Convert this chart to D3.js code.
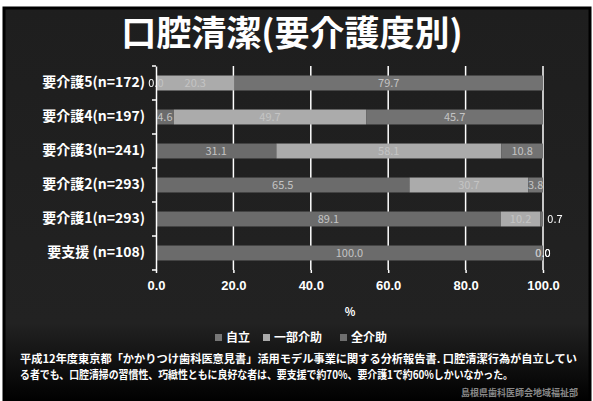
<!DOCTYPE html>
<html>
<head>
<meta charset="utf-8">
<script src="https://cdn.jsdelivr.net/npm/d3@7"></script>
<style>
  body { margin: 0; background: #fff; }
  svg { display: block; }
  text { font-family: "Noto Sans CJK JP", "Noto Sans", sans-serif; }
</style>
</head>
<body>
<div class="display"></div>
<script>
var categories = ["要介護5(n=172)", "要介護4(n=197)", "要介護3(n=241)", "要介護2(n=293)", "要介護1(n=293)", "要支援 (n=108)"];
var seriesNames = ["自立", "一部介助", "全介助"];
var jiritsu = [0.0, 4.6, 31.1, 65.5, 89.1, 100.0];
var ichibu = [20.3, 49.7, 58.1, 30.7, 10.2, 0.0];
var zenkaijo = [79.7, 45.7, 10.8, 3.8, 0.7, 0.0];
var xTicks = [0, 20, 40, 60, 80, 100];
var colors = ["#6b6b6b", "#ababab", "#727272"];

var width = 593, height = 401;

var rows = categories.map(function(c, i) {
  return { cat: c, "自立": jiritsu[i], "一部介助": ichibu[i], "全介助": zenkaijo[i] };
});
var stacked = d3.stack().keys(seriesNames)(rows);

var svg = d3.select(".display").append("svg")
  .attr("width", width).attr("height", height);

var defs = svg.append("defs");
var grad = defs.append("linearGradient").attr("id", "bg")
  .attr("x1", 0).attr("y1", 0).attr("x2", 0).attr("y2", 1);
grad.append("stop").attr("offset", 0).attr("stop-color", "#1e1e1e");
grad.append("stop").attr("offset", 0.8).attr("stop-color", "#222");
grad.append("stop").attr("offset", 1).attr("stop-color", "#000");

svg.append("rect")
  .attr("x", 4).attr("y", 8).attr("width", 586).attr("height", 394)
  .attr("fill", "url(#bg)")
  .attr("stroke", "#000").attr("stroke-width", 3);

// title
svg.append("text")
  .attr("x", 292).attr("y", 46)
  .attr("text-anchor", "middle")
  .attr("fill", "#fff").attr("font-size", 35).attr("font-weight", "bold")
  .text("口腔清潔(要介護度別)");

var x = d3.scaleLinear().domain([0, 100]).range([156, 543]);
var y = d3.scaleBand().domain(categories).range([66, 270])
  .paddingInner(0.56).paddingOuter(0.28);

// gridlines
svg.append("g").selectAll("line")
  .data(xTicks.slice(1))
  .enter().append("line")
  .attr("x1", function(d) { return x(d) }).attr("x2", function(d) { return x(d) })
  .attr("y1", 66).attr("y2", 270)
  .attr("stroke", "#fff").attr("stroke-width", 1.5);

// bars
var bars = svg.append("g");
stacked.forEach(function(s, si) {
  bars.selectAll(".s" + si)
    .data(s)
    .enter().append("rect")
    .attr("x", function(d) { return x(d[0]) })
    .attr("y", function(d) { return y(d.data.cat) })
    .attr("width", function(d) { return x(d[1]) - x(d[0]) })
    .attr("height", y.bandwidth())
    .attr("fill", colors[si]);
});

// masks for label colours (white outside bars, grey inside)
var clip = defs.append("clipPath").attr("id", "inbar");
var mask = defs.append("mask").attr("id", "outbar");
mask.append("rect").attr("width", width).attr("height", height).attr("fill", "#fff");
stacked.forEach(function(s) {
  s.forEach(function(d) {
    var w = x(d[1]) - x(d[0]);
    clip.append("rect").attr("x", x(d[0])).attr("y", y(d.data.cat)).attr("width", w).attr("height", y.bandwidth());
    mask.append("rect").attr("x", x(d[0])).attr("y", y(d.data.cat)).attr("width", w).attr("height", y.bandwidth()).attr("fill", "#000");
  });
});

var labelData = [];
stacked.forEach(function(s, si) {
  s.forEach(function(d) {
    var val = d[1] - d[0];
    var w = x(d[1]) - x(d[0]);
    var cx = (x(d[0]) + x(d[1])) / 2;
    if (si === 2 && val > 0 && w < 6) cx = x(100) + 12;
    labelData.push({ x: cx, y: y(d.data.cat) + y.bandwidth() / 2, t: val.toFixed(1) });
  });
});

function drawLabels(fill, attrName, ref) {
  svg.append("g").attr(attrName, ref)
    .selectAll("text").data(labelData)
    .enter().append("text")
    .attr("x", function(d) { return d.x })
    .attr("y", function(d) { return d.y + 4 })
    .attr("text-anchor", "middle")
    .attr("font-family", "DejaVu Sans, sans-serif")
    .attr("font-size", 11)
    .attr("fill", fill)
    .text(function(d) { return d.t });
}
drawLabels("#fff", "mask", "url(#outbar)");
drawLabels("#c4c4c4", "clip-path", "url(#inbar)");

// y axis
var yAxis = svg.append("g")
  .attr("transform", "translate(156,0)")
  .call(d3.axisLeft(y).tickSize(0).tickPadding(11));
yAxis.select(".domain").attr("stroke", "#fff").attr("stroke-width", 1.5);
yAxis.selectAll("text")
  .attr("fill", "#fff").attr("font-size", 14).attr("font-weight", "bold")
  .style("font-family", "Noto Sans CJK JP");
var yBounds = categories.map(function(c) { return y(c) - y.step() * y.paddingInner() / 2 });
yBounds.push(270);
yBounds[0] = 66;
yAxis.selectAll(".bound").data(yBounds)
  .enter().append("line")
  .attr("x1", -4).attr("x2", 0)
  .attr("y1", function(d) { return d }).attr("y2", function(d) { return d })
  .attr("stroke", "#fff").attr("stroke-width", 1.5);

// x axis
var xAxis = svg.append("g")
  .attr("transform", "translate(0,270)")
  .call(d3.axisBottom(x).tickValues(xTicks).tickSize(3).tickPadding(8)
    .tickFormat(function(d) { return d.toFixed(1) }));
xAxis.select(".domain").remove();
xAxis.selectAll("line").attr("stroke", "#fff").attr("stroke-width", 1.5);
xAxis.selectAll("text")
  .attr("fill", "#fff").attr("font-size", 13).attr("font-weight", "bold")
  .style("font-family", "Liberation Sans, Arial, sans-serif");

svg.append("text")
  .attr("x", 350).attr("y", 316)
  .attr("text-anchor", "middle")
  .attr("fill", "#fff").attr("font-size", 11).attr("font-weight", "bold")
  .text("%");

// legend
var legendX = [215, 263, 340];
var legend = svg.append("g").selectAll("g")
  .data(seriesNames)
  .enter().append("g")
  .attr("transform", function(d, i) { return "translate(" + legendX[i] + ",334)" });
legend.append("rect")
  .attr("width", 7).attr("height", 7)
  .attr("fill", function(d, i) { return ["#777", "#aaa", "#6e6e6e"][i] });
legend.append("text")
  .attr("x", 11).attr("y", 8)
  .attr("fill", "#fff").attr("font-size", 12).attr("font-weight", "bold")
  .text(function(d) { return d });

// footnote
var notes = [
  "平成12年度東京都「かかりつけ歯科医意見書」活用モデル事業に関する分析報告書. 口腔清潔行為が自立してい",
  "る者でも、口腔清掃の習慣性、巧緻性ともに良好な者は、要支援で約70%、要介護1で約60%しかいなかった。"
];
var noteWidths = [557, 493];
svg.append("g").selectAll("text")
  .data(notes)
  .enter().append("text")
  .attr("x", 20).attr("y", function(d, i) { return 363 + i * 16 })
  .attr("fill", "#fff").attr("font-size", 11).attr("font-weight", "bold")
  .attr("textLength", function(d, i) { return noteWidths[i] })
  .attr("lengthAdjust", "spacingAndGlyphs")
  .text(function(d) { return d });

svg.append("text")
  .attr("x", 578).attr("y", 396)
  .attr("text-anchor", "end")
  .attr("fill", "#888").attr("font-size", 9).attr("font-weight", "bold")
  .text("島根県歯科医師会地域福祉部");
</script>
</body>
</html>
